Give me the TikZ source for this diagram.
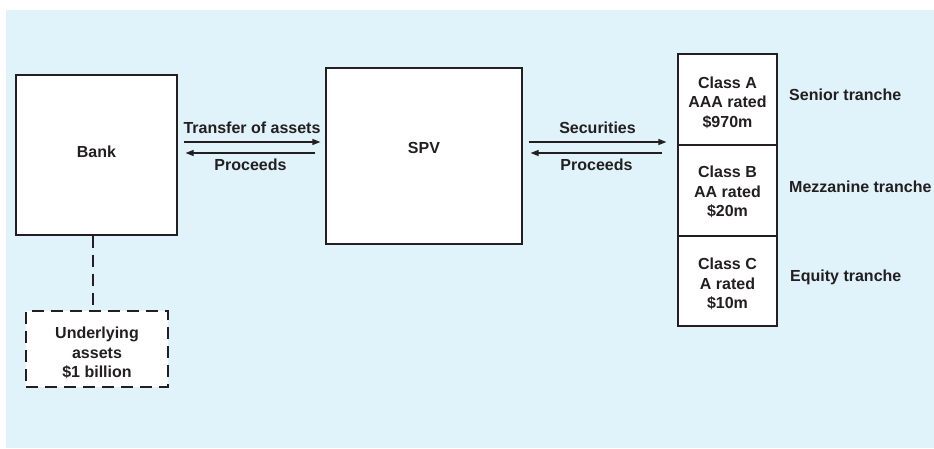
\documentclass[tikz,border=0pt]{standalone}
\usepackage{fontspec}
\setmainfont{Liberation Sans}
\usetikzlibrary{arrows.meta,calc}
\definecolor{bgblue}{RGB}{224,242,250}
\definecolor{ink}{RGB}{35,31,32}
\begin{document}
\begin{tikzpicture}[x=1pt,y=-1pt,
  every node/.style={font=\bfseries\fontsize{16}{19.5}\selectfont, text=ink, align=center},
  box/.style={draw=ink, line width=1.2pt, fill=white, inner sep=0pt},
  flow/.style={draw=ink, line width=1.2pt, -{Triangle[length=8pt,width=6pt]}},
  lbl/.style={anchor=west, inner sep=0pt}]
\useasboundingbox (0,0) rectangle (934,448);
\fill[bgblue] (6,10) rectangle (934,448);

\node[box, minimum width=161pt, minimum height=160pt] (bank) at (96.5,155) {};
\node at ($(bank.center)+(0,-3)$) (banktxt) {Bank};
\node[box, minimum width=196pt, minimum height=176pt] (spv) at (424,156) {};
\node at ($(spv.center)+(0,-8)$) (spvtxt) {SPV};

\node[box, minimum width=99pt, minimum height=91pt] (trA) at (727.5,99.5) {};
\node[box, minimum width=99pt, minimum height=91pt] (trB) at (727.5,190.5) {};
\node[box, minimum width=99pt, minimum height=90pt] (trC) at (727.5,281) {};
\node at ($(trA.center)+(0,3)$) (trAtxt) {Class A\\AAA rated\\\$970m};
\node at ($(trB.center)+(0,1.5)$) (trBtxt) {Class B\\AA rated\\\$20m};
\node at ($(trC.center)+(0,3)$) (trCtxt) {Class C\\A rated\\\$10m};

\node[lbl] (sen) at (789,95) {Senior tranche};
\node[lbl] (mez) at (789,187) {Mezzanine tranche};
\node[lbl] (eq) at (790,277) {Equity tranche};

\node[box, dash pattern=on 12pt off 7pt, minimum width=142pt, minimum height=76pt] (und) at (97,349) {};
\node at ($(und.center)+(0,4)$) (undtxt) {Underlying\\assets\\\$1 billion};
\coordinate (dtop) at ($(bank.south)+(-3.5,0)$);
\draw[draw=ink, line width=1.3pt, dash pattern=on 12pt off 7pt] (dtop) -- (dtop |- und.north);

% Bank <-> SPV
\draw[flow] ($(bank.east)+(6,-13)$) -- ($(bank.east -| spv.west)+(-5,-13)$)
  node[midway, yshift=14pt] (tr) {Transfer of assets};
\draw[flow] ($(bank.east -| spv.west)+(-10,-2)$) -- ($(bank.east)+(8,-2)$)
  node[midway, yshift=-12pt] (pr1) {Proceeds};

% SPV <-> tranches
\draw[flow] ($(spv.east)+(6,-14)$) -- ($(spv.east -| trB.west)+(-11,-14)$)
  node[midway, yshift=14pt] (sec) {Securities};
\draw[flow] ($(spv.east -| trB.west)+(-15,-3)$) -- ($(spv.east)+(8,-3)$)
  node[midway, yshift=-12pt] (pr2) {Proceeds};
\end{tikzpicture}
\end{document}
